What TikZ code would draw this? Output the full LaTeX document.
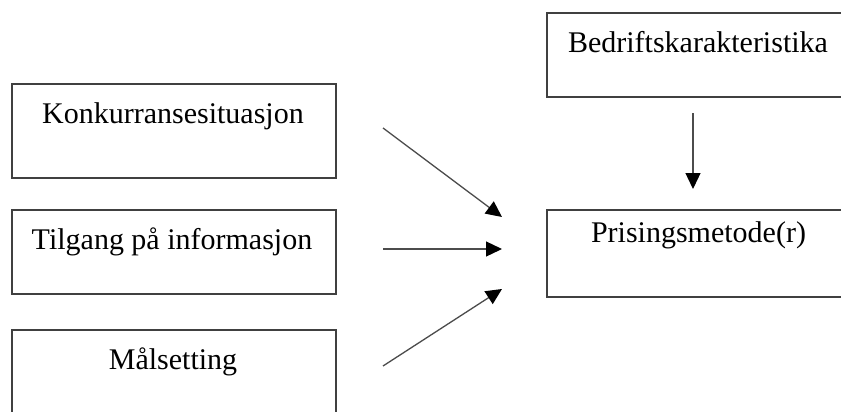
\documentclass[tikz,border=0pt]{standalone}
\usepackage{fontspec}
\setmainfont{Liberation Serif}
\usetikzlibrary{arrows.meta}
\begin{document}
\begin{tikzpicture}[x=1pt,y=-1pt,
  box/.style={draw=black!75,line width=1.2pt,rectangle,inner sep=0pt},
  lbl/.style={anchor=base,inner sep=0pt,font=\fontsize{30}{36}\selectfont},
  conn/.style={draw=black!70,line width=1.3pt,-{Triangle[length=16pt,width=15pt,fill=black,color=black]}}]
\useasboundingbox (0,0) rectangle (841,412);
\clip (0,0) rectangle (841,412);
% boxes
\node[box,minimum width=324pt,minimum height=94pt] (konk) at (174,131) {};
\node[box,minimum width=324pt,minimum height=84pt] (tilg) at (174,252) {};
\node[box,minimum width=324pt,minimum height=95pt] (mal) at (174,377.5) {};
\node[box,minimum width=303pt,minimum height=84pt] (bedr) at (698.5,55) {};
\node[box,minimum width=303pt,minimum height=87pt] (pris) at (698.5,253.5) {};
% texts
\node[lbl] (tkonk) at (173,124) {Konkurransesituasjon};
\node[lbl] (ttilg) at (172,249) {Tilgang på informasjon};
\node[lbl] (tmal) at (173,369) {Målsetting};
\node[lbl] (tbedr) at (698,53) {Bedriftskarakteristika};
\node[lbl] (tpris) at (698.5,242) {Prisingsmetode(r)};
% connector end points
\coordinate (a1s) at (383,128);
\coordinate (a1e) at (502,217);
\coordinate (a2s) at (383,249);
\coordinate (a2e) at (502,249);
\coordinate (a3s) at (383,366);
\coordinate (a3e) at (502,289);
\coordinate (a4s) at (693,113);
\coordinate (a4e) at (693,189);
\draw[conn] (a1s) -- (a1e);
\draw[conn] (a2s) -- (a2e);
\draw[conn] (a3s) -- (a3e);
\draw[conn] (a4s) -- (a4e);
\end{tikzpicture}
\end{document}
